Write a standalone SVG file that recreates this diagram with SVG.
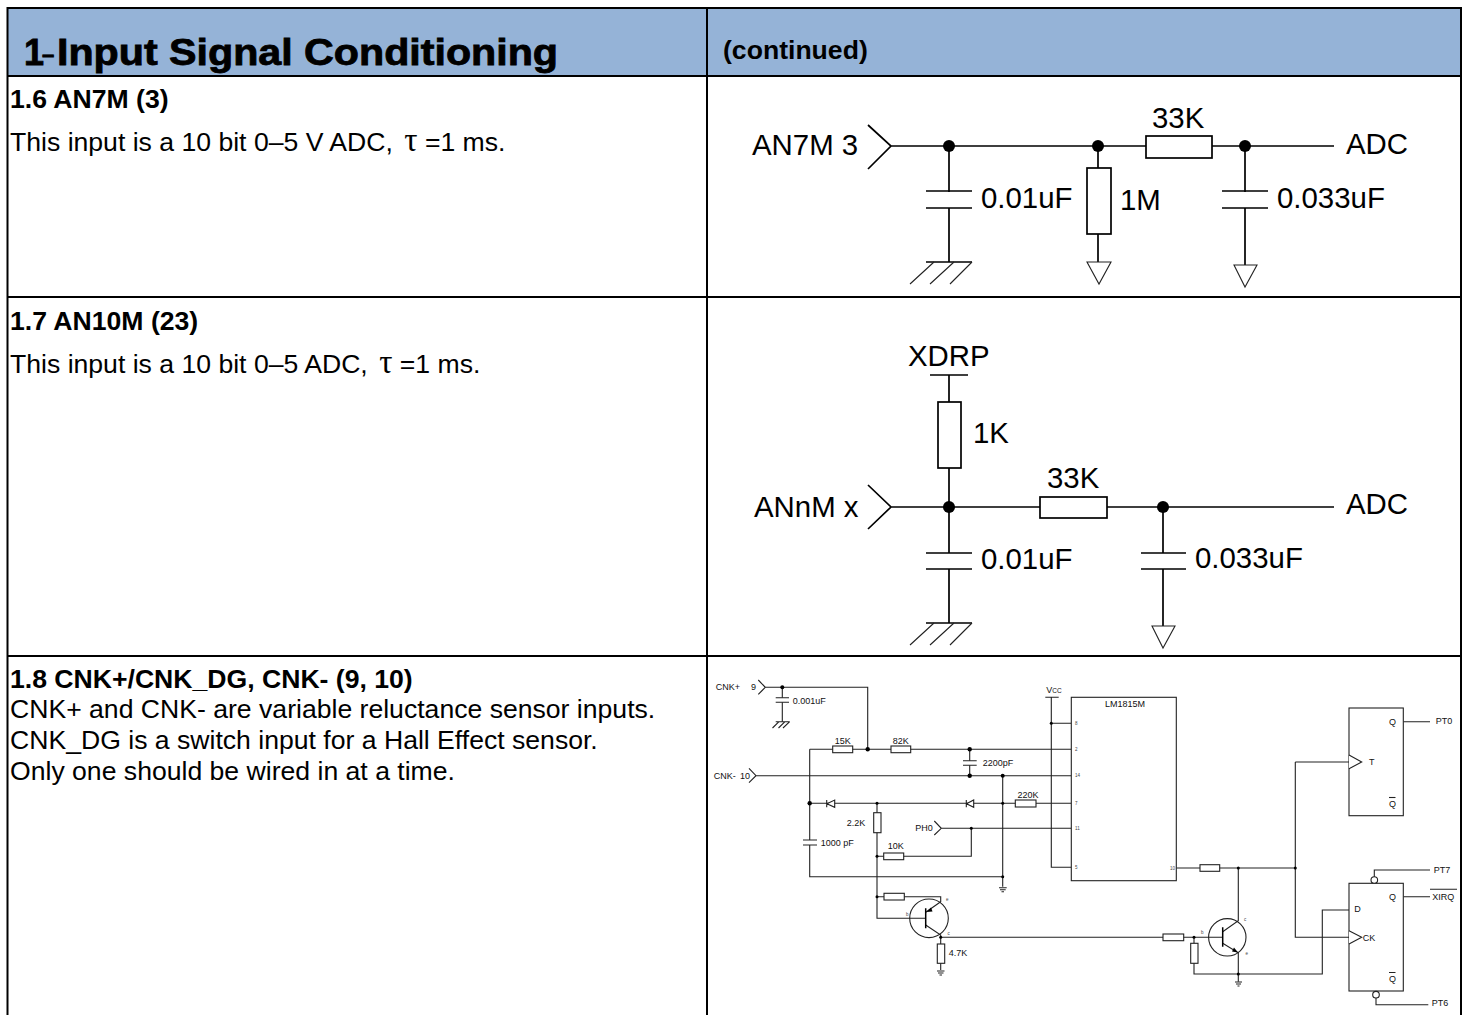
<svg xmlns="http://www.w3.org/2000/svg" width="1464" height="1015" viewBox="0 0 1464 1015">
<style>
text{font-family:"Liberation Sans",Arial,sans-serif;fill:#000}
.h{font-weight:700;font-size:36px;stroke:#000;stroke-width:.8px}
.d{font-size:22px}
.c{font-weight:700;font-size:26.600px}
.b{font-weight:700;font-size:26.600px}
.t{font-size:26.600px}
.s{font-family:"Liberation Serif","DejaVu Serif",serif;font-size:33px}
.l{font-size:29.400px}
.m{font-size:9px;fill:#111}
.p{font-size:4.500px;fill:#444}
.mid{text-anchor:middle}
.w{fill:none;stroke:#000;stroke-width:1.700}
.w1{fill:none;stroke:#222;stroke-width:1.100}
.r{fill:#fff;stroke:#000;stroke-width:1.700}
.r1{fill:#fff;stroke:#222;stroke-width:1.100}
.grid{fill:none;stroke:#000;stroke-width:2}
</style>
<rect width="1464" height="1015" fill="#fff"/>
<g id="table">
<rect x="8" y="9" width="1453" height="67" fill="#95b3d7"/>
<path class="grid" d="M1461 1015V8H7.500V1015M707 8V1015M7 76H1461M7 297H1461M7 656H1461"/>
</g>
<g id="text-left">
<text class="h" y="65"><tspan x="24">1</tspan><tspan class="d" x="42" dy="-3">–</tspan></text>
<text class="h" x="57" y="65" textLength="501" lengthAdjust="spacingAndGlyphs">Input Signal Conditioning</text>
<text class="c" x="723" y="59">(continued)</text>
<text class="b" x="10" y="108">1.6 AN7M (3)</text>
<text class="t" x="10" y="151">This input is a 10 bit 0–5 V ADC, <tspan class="s" dx="4">τ</tspan> =1 ms.</text>
<text class="b" x="10" y="330">1.7 AN10M (23)</text>
<text class="t" x="10" y="373">This input is a 10 bit 0–5 ADC, <tspan class="s" dx="4">τ</tspan> =1 ms.</text>
<text class="b" x="10" y="688">1.8 CNK+/CNK_DG, CNK- (9, 10)</text>
<text class="t" x="10" y="718">CNK+ and CNK- are variable reluctance sensor inputs.</text>
<text class="t" x="10" y="749">CNK_DG is a switch input for a Hall Effect sensor.</text>
<text class="t" x="10" y="780">Only one should be wired in at a time.</text>
</g>
<g id="circuit-an7m">
<g id="connectors-an7m" class="w"><path d="M868 125L891 146L868 169M891 146H1146M1212 146H1334M949 146V192M949 208V262M1098 146V168M1098 234V262M1245 146V192M1245 208V265"/></g>
<g id="an7m-parts">
<path class="w" d="M926 191H972M926 208H972M1222 191H1268M1222 208H1268M926 262H972"/>
<path class="w1" d="M934 262L910 284M954 262L930 284M972 262L950 284"/>
<rect class="r" x="1146" y="136" width="66" height="22"/>
<rect class="r" x="1087" y="168" width="24" height="66"/>
<path class="r1" d="M1087 262H1111L1099 284Z"/>
<path class="r1" d="M1234 265H1257L1245 287Z"/>
<circle cx="949" cy="146" r="6"/><circle cx="1098" cy="146" r="6"/><circle cx="1245" cy="146" r="6"/>
</g>
<text class="l" x="752" y="155">AN7M 3</text>
<text class="l" x="1152" y="128">33K</text>
<text class="l" x="1346" y="154">ADC</text>
<text class="l" x="981" y="208">0.01uF</text>
<text class="l" x="1120" y="210">1M</text>
<text class="l" x="1277" y="208">0.033uF</text>
</g>
<g id="circuit-annm">
<g id="connectors-annm" class="w"><path d="M868 485L891 507L868 529M891 507H1040M1107 507H1334M930 375H968M949 375V402M949 468V553M949 569V623M1163 507V553M1163 569V626"/></g>
<g id="annm-parts">
<path class="w" d="M926 553H972M926 569H972M1141 553H1186M1141 569H1186M926 623H972"/>
<path class="w1" d="M934 623L910 645M954 623L930 645M972 623L950 645"/>
<rect class="r" x="938" y="402" width="23" height="66"/>
<rect class="r" x="1040" y="497" width="67" height="21"/>
<path class="r1" d="M1152 626H1175L1163 648Z"/>
<circle cx="949" cy="507" r="6"/><circle cx="1163" cy="507" r="6"/>
</g>
<text class="l" x="908" y="366">XDRP</text>
<text class="l" x="973" y="443">1K</text>
<text class="l" x="1047" y="488">33K</text>
<text class="l" x="754" y="517">ANnM x</text>
<text class="l" x="1346" y="514">ADC</text>
<text class="l" x="981" y="569">0.01uF</text>
<text class="l" x="1195" y="568">0.033uF</text>
</g>
<g id="circuit-cnk">
<g id="connectors-cnk" class="w1">
<path d="M758.300 680L765.300 687.300L758.300 694.300M765.300 687.300H867.700V749.300M782.300 687.300V697.700M782.300 702.300V721.700"/>
<path d="M809.700 749.300H1071.300M969.700 749.300V760.700M969.700 765.300V775.700"/>
<path d="M749 768.300L756 775.700L749 782.700M756 775.700H1071.300M1002.700 775.700V886.700"/>
<path d="M809.700 749.300V840M809.700 845V876.700H1002.700M809.700 803.300H1071.300"/>
<path d="M877 803.300V918.300H925.700M877 856.300H971.300V828.300M934.300 821L941.300 828.300L934.300 835M941.300 828.300H1071.300"/>
<path d="M877 896.700H940.700V902M925.700 912.300L940.700 901.700M925.700 925L940.700 935V970M940.700 937.300H1222.700"/>
<path d="M1045.300 697.300H1058.700M1051.300 697.300V867.300H1071.300M1051.300 723.300H1071.300"/>
<path d="M1176.300 868H1295.300M1238.300 868V920.700L1222.700 931.700M1222.700 943.300L1238.300 952.700V981.700M1194 937.300V974H1322.300V910H1349"/>
<path d="M1295.300 762H1349M1295.300 762V937.300H1349M1403.300 721.700H1430M1403.300 896.700H1430M1374.300 877V870H1430M1376 998V1004.700H1428.300"/>
</g>
<g id="cnk-parts">
<path class="w1" d="M775.700 697.700H789M775.700 702.300H789M775.700 721.700H789.700M779 721.700L772.500 728M785 721.700L778.500 728M789.700 721.700L783 728M963 760.700H976.700M963 765.300H976.700M803 840H817M803 845H817M999 887.700H1006.700M1000 889.700H1005.700M1001.500 891.700H1004M937 971H944.500M938 973H943.500M939.500 975H942M1235 982H1242M1236 984H1241M1237.500 986H1239.500"/>
<g class="r1"><rect x="832.700" y="746" width="20" height="6.700"/><rect x="891" y="746" width="19.700" height="6.700"/><rect x="1015.300" y="800" width="20.700" height="7"/><rect x="873.700" y="812.700" width="7.300" height="20"/><rect x="883.700" y="853" width="20" height="6.700"/><rect x="884" y="893.300" width="20.300" height="6.700"/><rect x="937.300" y="944" width="7.400" height="19.300"/><rect x="1200" y="864.700" width="19.700" height="6.600"/><rect x="1163" y="934" width="20.700" height="6.700"/><rect x="1190.700" y="943.300" width="7.300" height="20"/></g>
<path class="r1" d="M826.700 800V807.300M834.700 800V807.300L826.900 803.700ZM966.300 800V807.300M973.700 800V807.300L966.500 803.700Z"/>
<circle class="w1" cx="929" cy="918.300" r="19.300"/><circle class="w1" cx="1227.300" cy="937.300" r="18.700"/>
<path d="M925.700 908.300V928.300M1222.700 927.300V946.700" stroke="#000" stroke-width="1.500" fill="none"/>
<path d="M926.500 912L931 907.500L932.500 911.500Z"/><path d="M1238 952.500L1232 951.500L1234 947.500Z"/>
<g fill="#000"><circle cx="782.300" cy="687.300" r="2"/><circle cx="867.700" cy="749.300" r="2.200"/><circle cx="969.700" cy="749.300" r="2.200"/><circle cx="969.700" cy="775.700" r="2.200"/><circle cx="1002.700" cy="775.700" r="2"/><circle cx="809.700" cy="803.300" r="2.200"/><circle cx="877" cy="803.300" r="1.500"/><circle cx="1002.700" cy="803.300" r="1.500"/><circle cx="971.300" cy="828.300" r="1.500"/><circle cx="877" cy="856.300" r="1.500"/><circle cx="877" cy="896.700" r="1.500"/><circle cx="1002.700" cy="876.700" r="1.500"/><circle cx="1051.300" cy="723.300" r="1.500"/><circle cx="940.700" cy="937.300" r="1.500"/><circle cx="1238.300" cy="868" r="1.500"/><circle cx="1295.300" cy="868" r="1.500"/><circle cx="1194" cy="937.300" r="1.500"/><circle cx="1238.300" cy="974" r="1.500"/></g>
</g>
<g id="lm1815"><rect class="r1" x="1071.300" y="697.300" width="105" height="183.400"/>
<text class="m mid" x="1125" y="706.700">LM1815M</text>
<g><text class="p" x="1075" y="724.500">8</text><text class="p" x="1075" y="751">2</text><text class="p" x="1075" y="777">14</text><text class="p" x="1075" y="804.500">7</text><text class="p" x="1075" y="829.500">11</text><text class="p" x="1075" y="869">5</text><text class="p" x="1170" y="869.500">10</text></g>
</g>
<g id="ff-t"><rect class="r1" x="1349" y="708" width="54.300" height="107.700"/><path class="r1" d="M1349 755L1361.700 762L1349 768.700"/>
<text class="m" x="1369" y="765">T</text><text class="m" x="1389" y="724.500">Q</text><text class="m" x="1389" y="806.700">Q</text><path class="w1" d="M1389 797.500H1395.500"/></g>
<g id="ff-d"><rect class="r1" x="1349" y="883.300" width="54.300" height="107.700"/><path class="r1" d="M1349 930.700L1361.700 937.300L1349 944"/>
<circle class="r1" cx="1374.300" cy="880" r="3.300"/><circle class="r1" cx="1376" cy="994.700" r="3.300"/>
<text class="m" x="1354.300" y="912.300">D</text><text class="m" x="1362.700" y="940.500">CK</text><text class="m" x="1389" y="899.700">Q</text><text class="m" x="1389" y="981.700">Q</text><path class="w1" d="M1389 972.500H1395.500M1430 889.300H1457"/></g>
<text class="m" x="715.700" y="690">CNK+</text><text class="m" x="751" y="690">9</text>
<text class="m" x="792.700" y="703.500">0.001uF</text>
<text class="m mid" x="842.700" y="744">15K</text><text class="m mid" x="900.700" y="743.500">82K</text>
<text class="m" x="982.700" y="765.500">2200pF</text>
<text class="m" x="713.700" y="778.500">CNK-</text><text class="m" x="740" y="778.500">10</text>
<text class="m mid" x="1028" y="797.500">220K</text>
<text class="m" x="846.700" y="825.700">2.2K</text><text class="m" x="915.300" y="830.700">PH0</text>
<text class="m" x="820.700" y="845.700">1000 pF</text><text class="m mid" x="895.700" y="848.700">10K</text>
<text class="m" x="948.700" y="956.300">4.7K</text>
<text class="m" x="1046.300" y="693.300">V<tspan font-size="6.500">CC</tspan></text>
<g><text class="p" x="946" y="900.500">e</text><text class="p" x="906" y="915.500">b</text><text class="p" x="947.500" y="934.500">c</text><text class="p" x="1244" y="921">c</text><text class="p" x="1201" y="933.500">b</text><text class="p" x="1245.500" y="954.500">e</text></g>
<text class="m" x="1435.700" y="724">PT0</text><text class="m" x="1433.700" y="872.500">PT7</text><text class="m" x="1432.300" y="899.700">XIRQ</text><text class="m" x="1431.700" y="1006">PT6</text>
</g>
</svg>
